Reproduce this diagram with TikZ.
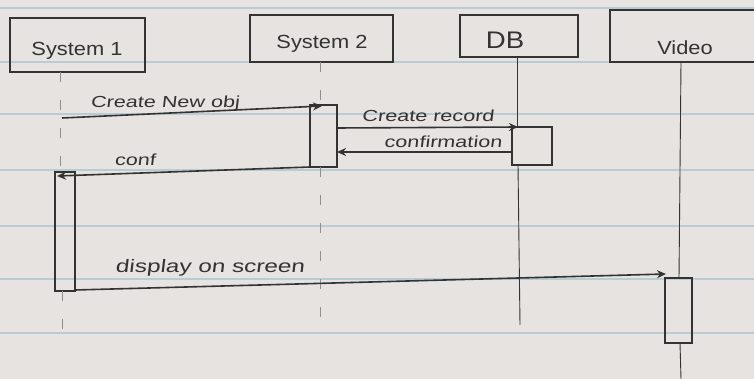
\documentclass[tikz,border=0pt]{standalone}
\usepackage{fontspec}
\setmainfont{Liberation Sans}
\newfontfamily\handwide[FakeStretch=1.35, FakeSlant=0.12]{Liberation Sans}
\newfontfamily\handhead[FakeStretch=1.15]{Liberation Sans}
\usetikzlibrary{arrows.meta}
\definecolor{paper}{HTML}{E6E3E0}
\definecolor{rule}{HTML}{B9CCD3}
\definecolor{pen}{HTML}{333333}
\tikzset{
  headbox/.style={draw=pen, line width=1.8pt, inner sep=0pt, text=pen},
  headtxt/.style={text=pen, inner sep=0pt, font=\handhead\fontsize{19}{21}\selectfont},
  act/.style={draw=pen, line width=1.5pt, inner sep=0pt},
  life/.style={draw=pen, line width=0.9pt},
  faintlife/.style={draw=pen!55, line width=0.9pt, dash pattern=on 10pt off 18pt},
  msg/.style={draw=pen, line width=1.6pt, -{Stealth[length=9pt,width=8pt]}},
  lbl/.style={text=pen, font=\handwide\fontsize{16}{18}\selectfont, inner sep=1pt},
}
\begin{document}
\begin{tikzpicture}[x=1pt,y=-1pt]
\useasboundingbox (0,0) rectangle (754,379);
\fill[paper] (0,0) rectangle (754,379);
\foreach \yy in {8,62,114,170,226,279,333}
  \draw[rule, line width=1.2pt] (0,\yy) -- (754,\yy);

% heads
\node[headbox, minimum width=135pt, minimum height=54pt] (s1) at (77.5,45) {};
\node[headbox, minimum width=143pt, minimum height=47pt] (s2) at (321.5,38.5) {};
\node[headbox, minimum width=118pt, minimum height=42pt] (db) at (519,36) {};
\node[headbox, minimum width=150pt, minimum height=52pt] (vd) at (685,36) {};
\node[headtxt] (s1t) at (77,51) {System 1};
\node[headtxt] (s2t) at (322,44) {System 2};
\node[headtxt, font=\handhead\fontsize{24}{26}\selectfont] (dbt) at (505,40) {DB};
\node[headtxt] (vdt) at (685,48) {Video};

% activation boxes
\node[act, minimum width=20pt, minimum height=119pt] (a1) at (65,231.5) {};
\node[act, minimum width=27pt, minimum height=62pt] (a2) at (323.5,136) {};
\node[act, minimum width=40pt, minimum height=38pt] (a3) at (532,146) {};
\node[act, minimum width=27pt, minimum height=65pt] (a4) at (678.5,310.5) {};

% lifeline ends
\coordinate (l1a) at (60,72); \coordinate (l1b) at (60,172);
\coordinate (l1c) at (62,291); \coordinate (l1d) at (62,330);
\coordinate (l2a) at (320,62); \coordinate (l2b) at (320,105);
\coordinate (l2c) at (320,167); \coordinate (l2d) at (320,330);
\coordinate (l3a) at (517,57); \coordinate (l3b) at (517,127);
\coordinate (l3c) at (518,165); \coordinate (l3d) at (520,325);
\coordinate (l4a) at (681,62); \coordinate (l4b) at (679,278);
\coordinate (l4c) at (680,343); \coordinate (l4d) at (681,379);

\draw[faintlife] (l1a) -- (l1b);
\draw[faintlife] (l1c) -- (l1d);
\draw[faintlife] (l2a) -- (l2b);
\draw[faintlife] (l2c) -- (l2d);
\draw[life] (l3a) -- (l3b);
\draw[life] (l3c) -- (l3d);
\draw[life] (l4a) -- (l4b);
\draw[life] (l4c) -- (l4d);

% messages
\coordinate (m1s) at (62,118); \coordinate (m1e) at (322,106);
\coordinate (m2s) at (337,128); \coordinate (m2e) at (518,127);
\coordinate (m3s) at (512,152); \coordinate (m3e) at (337,152);
\coordinate (m4s) at (310,167); \coordinate (m4e) at (57,176);
\coordinate (m5s) at (75,290); \coordinate (m5e) at (666,274);

\draw[msg] (m1s) -- (m1e);
\draw[msg] (m2s) -- (m2e);
\draw[msg] (m3s) -- (m3e);
\draw[msg] (m4s) -- (m4e);
\draw[msg] (m5s) -- (m5e);

\node[lbl] (t1) at (165,103) {Create New obj};
\node[lbl] (t2) at (428,116) {Create record};
\node[lbl] (t3) at (443,142) {confirmation};
\node[lbl] (t4) at (135,160) {conf};
\node[lbl, font=\handwide\fontsize{18}{20}\selectfont] (t5) at (210,268) {display on screen};
\end{tikzpicture}
\end{document}
